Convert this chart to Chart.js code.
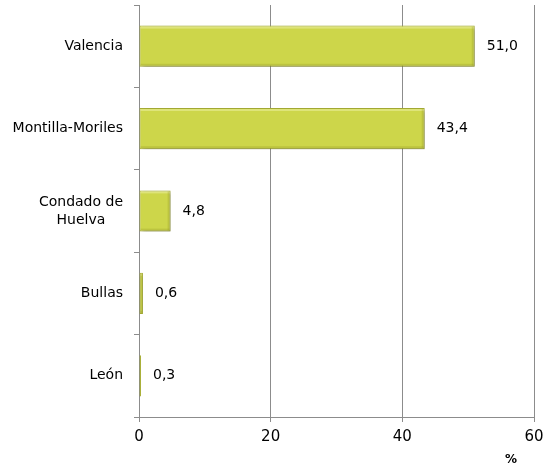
<!DOCTYPE html>
<html>
<head>
<meta charset="utf-8">
<script src="https://cdn.jsdelivr.net/npm/chart.js@4/dist/chart.umd.min.js"></script>
<style>
html,body{margin:0;padding:0;background:#fff;}
#wrap{width:553px;height:471px;}
</style>
</head>
<body>
<div id="wrap"><canvas id="c" width="553" height="471"></canvas></div>
<script>
const categories = [["Valencia"], ["Montilla-Moriles"], ["Condado de", "Huelva"], ["Bullas"], ["León"]];
const values = [51.0, 43.4, 4.8, 0.6, 0.3];
const xTicks = [0, 20, 40, 60];
const axisTitle = "%";

const FONT = "DejaVu Sans";
const GRID = "#8c8c8c";

const shadowPlugin = {
  id: 'shadow',
  beforeDatasetsDraw(chart) {
    const ctx = chart.ctx;
    ctx.save();
    ctx.shadowColor = 'rgba(0,0,0,0.28)';
    ctx.shadowBlur = 4;
    ctx.shadowOffsetX = 2;
    ctx.shadowOffsetY = 2;
  },
  afterDatasetsDraw(chart) {
    const ctx = chart.ctx;
    ctx.restore();
    const meta = chart.getDatasetMeta(0);
    meta.data.forEach((bar) => {
      const x0 = bar.base, x1 = bar.x;
      const y0 = bar.y - bar.height / 2, y1 = bar.y + bar.height / 2;
      if (x1 - x0 < 3) return;
      ctx.save();
      ctx.fillStyle = 'rgba(255,255,210,0.35)';
      ctx.fillRect(x0 + 1, y0 + 1, x1 - x0 - 2, 2);
      ctx.fillStyle = 'rgba(140,145,30,0.25)';
      ctx.fillRect(x0 + 1, y1 - 3, x1 - x0 - 2, 2);
      ctx.fillRect(x1 - 3, y0 + 1, 2, y1 - y0 - 2);
      ctx.restore();
    });
    ctx.save();
    ctx.font = "14px '" + FONT + "'";
    ctx.fillStyle = '#000';
    ctx.textAlign = 'left';
    ctx.textBaseline = 'middle';
    meta.data.forEach((bar, i) => {
      ctx.fillText(values[i].toFixed(1).replace('.', ','), bar.x + 12, bar.y);
    });
    ctx.restore();
  },
  afterDraw(chart) {
    const ctx = chart.ctx;
    const ys = chart.scales.y;
    const xs = chart.scales.x;
    ctx.save();
    ctx.font = "14px '" + FONT + "'";
    ctx.fillStyle = '#000';
    ctx.textBaseline = 'middle';
    ctx.textAlign = 'center';
    const rightEdge = ys.right - 16;
    const lh = 18;
    categories.forEach((lines, i) => {
      const yc = ys.getPixelForTick(i);
      const maxW = Math.max(...lines.map(l => ctx.measureText(l).width));
      const cx = rightEdge - maxW / 2;
      const n = lines.length;
      lines.forEach((l, j) => {
        ctx.fillText(l, cx, yc + (j - (n - 1) / 2) * lh);
      });
    });
    ctx.font = "bold 12px '" + FONT + "'";
    ctx.fillText(axisTitle, xs.right - 23, xs.bottom - 11);
    ctx.restore();
  }
};

new Chart(document.getElementById('c'), {
  type: 'bar',
  data: {
    labels: categories,
    datasets: [{
      data: values,
      backgroundColor: '#CDD64A',
      borderColor: '#A8AE34',
      borderWidth: 1,
      borderSkipped: false,
      categoryPercentage: 1,
      barPercentage: 0.5
    }]
  },
  options: {
    indexAxis: 'y',
    responsive: false,
    animation: false,
    devicePixelRatio: 1,
    layout: { padding: { top: 5, right: 19, left: 0, bottom: 0 } },
    plugins: { legend: { display: false }, tooltip: { enabled: false }, title: { display: false } },
    scales: {
      x: {
        min: 0, max: 60,
        afterBuildTicks(scale) { scale.ticks = xTicks.map(v => ({ value: v })); },
        afterFit(scale) { scale.height = 54; },
        grid: { color: GRID, lineWidth: 1, drawTicks: true, tickLength: 5 },
        border: { color: GRID },
        ticks: { color: '#000', font: { family: FONT, size: 15 }, padding: 6, maxRotation: 0 }
      },
      y: {
        afterFit(scale) { scale.width = 139; },
        grid: { drawOnChartArea: false, color: GRID, tickLength: 5, offset: true },
        border: { color: GRID },
        ticks: { display: false }
      }
    }
  },
  plugins: [shadowPlugin]
});
</script>
</body>
</html>
